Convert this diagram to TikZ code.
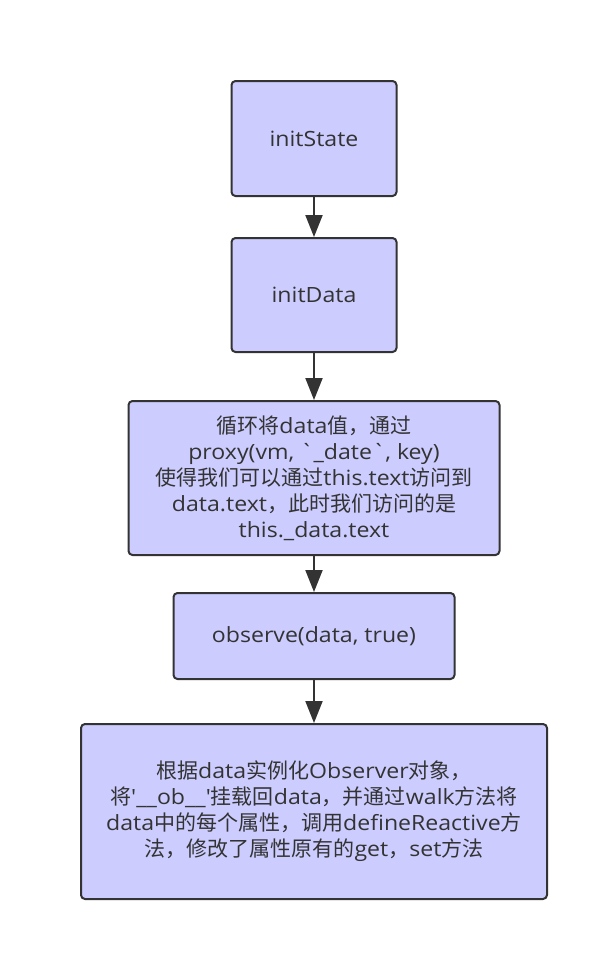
\documentclass[tikz,border=0pt]{standalone}
\usepackage{fontspec}
\newfontfamily\boxfont[FakeStretch=1.1]{Open Sans}
\newfontfamily\cjk{Noto Sans CJK SC}
\usetikzlibrary{arrows.meta}
\definecolor{boxfill}{RGB}{204,204,255}
\definecolor{boxline}{RGB}{51,51,51}

\begin{document}
\begin{tikzpicture}[x=1pt,y=-1pt,
  flowbox/.style={draw=boxline,line width=2pt,fill=boxfill,rounded corners=4pt,
    text=boxline,align=center,inner sep=0pt,font=\boxfont\fontsize{21}{26}\selectfont},
  flowarrow/.style={draw=boxline,line width=2pt,-{Triangle[length=22pt,width=17pt]}}]
  \fill[white] (0,0) rectangle (601,954);
  \useasboundingbox (0,0) rectangle (601,954);
  \node[flowbox,minimum width=165pt,minimum height=115pt] (state) at (314,138.5) {initState};
  \node[flowbox,minimum width=165pt,minimum height=114pt] (data) at (314,295) {initData};
  \node[flowbox,minimum width=371pt,minimum height=154pt] (proxy) at (314,478)
    {{\cjk 循环将}data{\cjk 值，通过}\\
     proxy(vm, `\_date`, key)\\
     {\cjk 使得我们可以通过}this.text{\cjk 访问到}\\
     data.text{\cjk ，此时我们访问的是}\\
     this.\_data.text};
  \node[flowbox,minimum width=281pt,minimum height=86pt] (observe) at (314,636) {observe(data, true)};
  \node[flowbox,minimum width=466pt,minimum height=175pt] (walk) at (314,811.5)
    {{\cjk 根据}data{\cjk 实例化}Observer{\cjk 对象，}\\
     {\cjk 将}'\_\_ob\_\_'{\cjk 挂载回}data{\cjk ，并通过}walk{\cjk 方法将}\\
     data{\cjk 中的每个属性，调用}defineReactive{\cjk 方}\\
     {\cjk 法，修改了属性原有的}get{\cjk ，}set{\cjk 方法}};
  % connectors
  \draw[flowarrow] (state) -- (data);
  \draw[flowarrow] (data) -- (proxy);
  \draw[flowarrow] (proxy) -- (observe);
  \draw[flowarrow] (observe) -- (walk);
\end{tikzpicture}
\end{document}
